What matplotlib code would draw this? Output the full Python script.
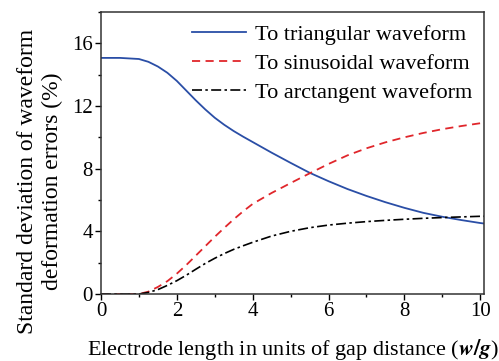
import numpy as np
import matplotlib.pyplot as plt
from matplotlib.ticker import MultipleLocator

# electrode length in units of gap distance (w/g)
x = [0, 0.5, 1, 1.25, 1.5, 1.75, 2, 2.25, 2.5, 2.75, 3, 3.25, 3.5, 3.75, 4,
     4.5, 5, 5.5, 6, 6.5, 7, 7.5, 8, 8.5, 9, 9.5, 10, 10.1]

# standard deviation of waveform deformation errors (%)
triangular = [15.07, 15.07, 15.0, 14.82, 14.52, 14.12, 13.6, 12.98, 12.36, 11.78, 11.25, 10.8, 10.4, 10.04, 9.7,
              9.02, 8.37, 7.74, 7.2, 6.7, 6.26, 5.86, 5.5, 5.18, 4.93, 4.72, 4.53, 4.5]
sinusoidal = [0, 0, 0.0, 0.15, 0.45, 0.82, 1.3, 1.85, 2.45, 3.05, 3.65, 4.22, 4.77, 5.28, 5.75,
              6.45, 7.08, 7.7, 8.3, 8.85, 9.3, 9.68, 10.0, 10.28, 10.52, 10.72, 10.9, 10.92]
arctangent = [0, 0, 0.0, 0.1, 0.28, 0.55, 0.85, 1.2, 1.58, 1.95, 2.28, 2.58, 2.85, 3.08, 3.3,
              3.7, 4.0, 4.23, 4.4, 4.52, 4.62, 4.7, 4.77, 4.83, 4.88, 4.92, 4.96, 4.96]

labels = ['To triangular waveform', 'To sinusoidal waveform', 'To arctangent waveform']

plt.rcParams['font.family'] = ['Liberation Serif', 'DejaVu Serif']
plt.rcParams['mathtext.fontset'] = 'stix'

fig = plt.figure(figsize=(4.99, 3.61), dpi=100)
ax = fig.add_axes([101 / 499, 1 - 294 / 361, (484 - 101) / 499, (294 - 12) / 361])

ax.plot(x, triangular, color='#2a4ea6', lw=1.3, ls='-', label=labels[0])
ax.plot(x, sinusoidal, color='#e0262b', lw=1.3, ls=(0, (4.5, 3)), label=labels[1])
ax.plot(x, arctangent, color='black', lw=1.2, ls=(0, (6, 2, 1.5, 2)), label=labels[2])

ax.set_xlim(0, 10.1)
ax.set_ylim(0, 18)
ax.xaxis.set_major_locator(MultipleLocator(2))
ax.xaxis.set_minor_locator(MultipleLocator(1))
ax.yaxis.set_major_locator(MultipleLocator(4))
ax.yaxis.set_minor_locator(MultipleLocator(2))
ax.tick_params(which='major', direction='out', length=4, width=1, labelsize=15, pad=2)
ax.tick_params(which='minor', direction='out', length=2.5, width=1)
for s in ax.spines.values():
    s.set_color('#333333')
    s.set_linewidth(1.1)

ax.set_xlabel(r'Electrode length in units of gap distance ($\boldsymbol{w/g}$)', fontsize=16, labelpad=11)
ax.set_ylabel('Standard deviation of waveform\ndeformation errors (%)', fontsize=17, linespacing=1.25)
ax.yaxis.set_label_coords(-0.10, 0.40)

ax.legend(loc='upper right', frameon=False, fontsize=16, handlelength=2.4, handletextpad=0.4,
          labelspacing=0.38, borderaxespad=0.35, borderpad=0.2)

fig.savefig('out.png', dpi=100)
